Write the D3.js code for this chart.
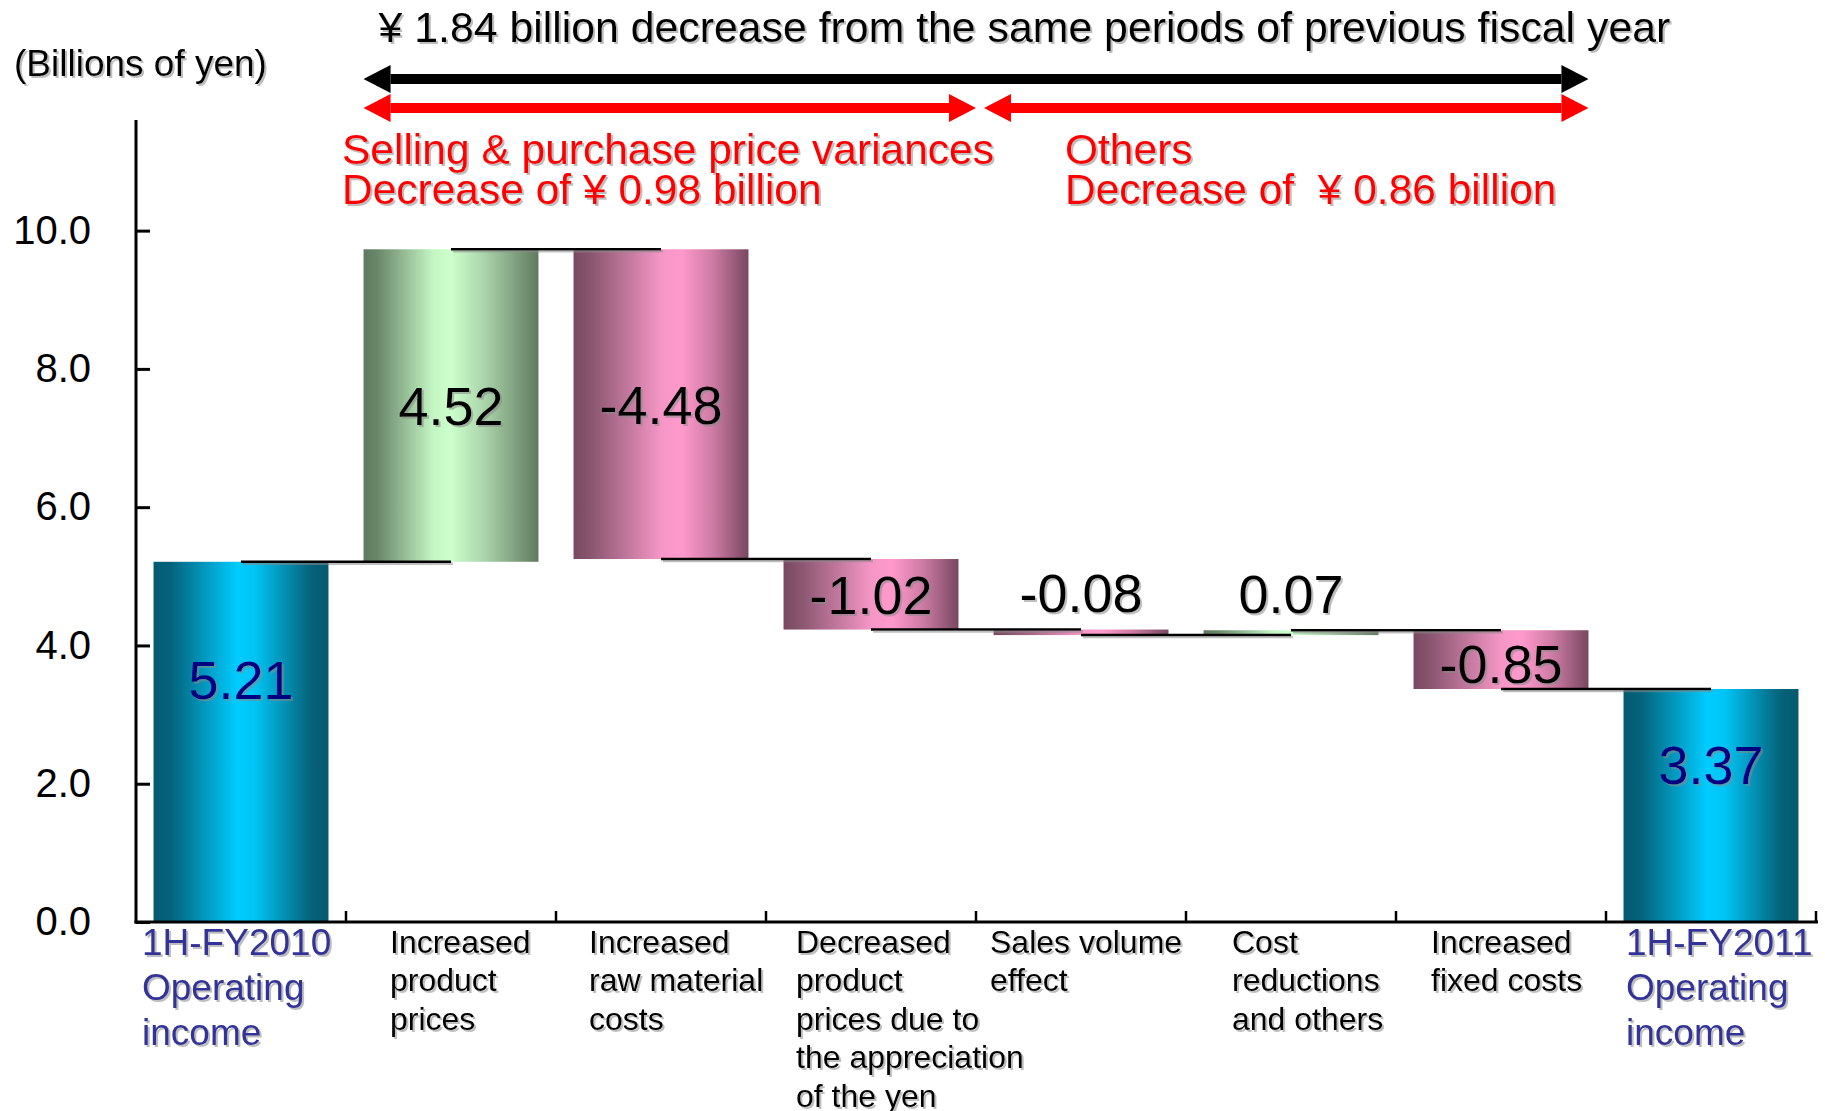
<!DOCTYPE html>
<html>
<head>
<meta charset="utf-8">
<script src="https://cdn.jsdelivr.net/npm/d3@7"></script>
<style>
  html, body { margin: 0; padding: 0; background: #fff; }
  svg { display: block; font-family: "Liberation Sans", Arial, sans-serif; }
  svg text { white-space: pre; }
</style>
</head>
<body>
<svg id="chart" width="1825" height="1111"></svg>
<script>
// Operating income bridge, 1H-FY2010 -> 1H-FY2011 (billions of yen)
const categories = [
  ["1H-FY2010", "Operating", "income"],
  ["Increased", "product", "prices"],
  ["Increased", "raw material", "costs"],
  ["Decreased", "product", "prices due to", "the appreciation", "of the yen"],
  ["Sales volume", "effect"],
  ["Cost", "reductions", "and others"],
  ["Increased", "fixed costs"],
  ["1H-FY2011", "Operating", "income"]
];
const values = [5.21, 4.52, -4.48, -1.02, -0.08, 0.07, -0.85, 3.37];
const kinds = ["total", "up", "down", "down", "down", "up", "down", "total"];
const yTickValues = [0, 2, 4, 6, 8, 10];

const headline = "¥ 1.84 billion decrease from the same periods of previous fiscal year";
const leftNote = ["Selling & purchase price variances", "Decrease of ¥ 0.98 billion"];
const rightNote = ["Others", "Decrease of  ¥ 0.86 billion"];
const unitLabel = "(Billions of yen)";

// layout: left inset of each category caption inside its slot
const labelInset = [6, 44, 33, 30, 14, 46, 35, 20];

const svg = d3.select("#chart");
const defs = svg.append("defs");

// soft grey drop shadow used on texts and connector lines
const shadow = defs.append("filter").attr("id", "shadow")
  .attr("x", "-10%").attr("y", "-10%").attr("width", "130%").attr("height", "140%");
shadow.append("feDropShadow").attr("dx", 2).attr("dy", 2).attr("stdDeviation", 0.6)
  .attr("flood-color", "#888").attr("flood-opacity", 0.55);

function hGradient(id, stops) {
  const g = defs.append("linearGradient").attr("id", id)
    .attr("x1", "0%").attr("x2", "100%").attr("y1", "0%").attr("y2", "0%");
  stops.forEach(([o, c]) => g.append("stop").attr("offset", o).attr("stop-color", c));
}
hGradient("gTotal", [["0%", "#045a70"], ["10%", "#04637c"], ["48%", "#00ccff"], ["58%", "#00c4f4"], ["90%", "#05627a"], ["100%", "#055a6f"]]);
hGradient("gUp", [["0%", "#5f7a5f"], ["8%", "#6a876a"], ["40%", "#c4f6c4"], ["50%", "#ccffcc"], ["70%", "#a9d2a9"], ["100%", "#5f7a5f"]]);
hGradient("gDown", [["0%", "#794860"], ["10%", "#8a5670"], ["50%", "#f596c6"], ["62%", "#ff99cc"], ["80%", "#cc7aa3"], ["100%", "#784760"]]);
const fillFor = { total: "url(#gTotal)", up: "url(#gUp)", down: "url(#gDown)" };

// running totals for the bridge
let running = 0;
const bars = values.map((v, i) => {
  let lo, hi, end;
  if (kinds[i] === "total") { lo = 0; hi = v; end = v; }
  else { const s = running; end = s + v; lo = Math.min(s, end); hi = Math.max(s, end); }
  running = end;
  return { i, v, kind: kinds[i], lo, hi, end };
});

const x = d3.scaleBand().domain(d3.range(categories.length))
  .range([136, 1816]).paddingInner(0.167).paddingOuter(0.0835);
const y = d3.scaleLinear().domain([0, 11.6]).range([922, 120]);
const step = x.step();
const slotLeft = i => x(0) - step * x.paddingInner() / 2 + i * step;

// bars
svg.append("g").selectAll("rect").data(bars).join("rect")
  .attr("x", d => x(d.i))
  .attr("width", x.bandwidth())
  .attr("y", d => y(d.hi))
  .attr("height", d => Math.max(1, y(d.lo) - y(d.hi)))
  .attr("fill", d => fillFor[d.kind]);

// connectors between consecutive bars at the running level
svg.append("g").attr("filter", "url(#shadow)").selectAll("line").data(bars.slice(0, -1)).join("line")
  .attr("x1", d => x(d.i) + x.bandwidth() / 2)
  .attr("x2", d => x(d.i + 1) + x.bandwidth() / 2)
  .attr("y1", d => y(d.end)).attr("y2", d => y(d.end))
  .attr("stroke", "#000").attr("stroke-width", 2.5);

// y axis
const yAxis = d3.axisLeft(y).tickValues(yTickValues).tickFormat(d3.format(".1f"))
  .tickSizeInner(-14).tickSizeOuter(0).tickPadding(45);
const gy = svg.append("g").attr("transform", "translate(136,0)").call(yAxis);
gy.select(".domain").remove();
gy.selectAll(".tick line").attr("stroke", "#000").attr("stroke-width", 3);
gy.selectAll(".tick text").attr("font-size", 40).attr("fill", "#000")
  .attr("font-family", "Liberation Sans, Arial, sans-serif");
svg.append("line").attr("x1", 136).attr("x2", 136).attr("y1", y.range()[1]).attr("y2", y(0) + 1.5)
  .attr("stroke", "#000").attr("stroke-width", 3);

// x axis baseline with slot separators
svg.append("line").attr("x1", 134.5).attr("x2", 1818).attr("y1", y(0)).attr("y2", y(0))
  .attr("stroke", "#000").attr("stroke-width", 3);
svg.append("g").selectAll("line").data(d3.range(1, categories.length + 1)).join("line")
  .attr("x1", i => slotLeft(i)).attr("x2", i => slotLeft(i))
  .attr("y1", y(0)).attr("y2", y(0) - 11)
  .attr("stroke", "#000").attr("stroke-width", 2.5);

// category captions
const cap = svg.append("g").attr("filter", "url(#shadow)");
categories.forEach((lines, i) => {
  const isTotal = kinds[i] === "total";
  const t = cap.append("text")
    .attr("x", slotLeft(i) + labelInset[i])
    .attr("y", isTotal ? 955 : 953)
    .attr("font-size", isTotal ? 37 : 32)
    .attr("fill", isTotal ? "#333399" : "#000");
  lines.forEach((s, k) => t.append("tspan")
    .attr("x", slotLeft(i) + labelInset[i])
    .attr("dy", k === 0 ? 0 : (isTotal ? 45 : 38.4))
    .text(s));
});

// value labels
const fmt = v => (v < 0 ? "-" : "") + d3.format(".2f")(Math.abs(v));
svg.append("g").attr("filter", "url(#shadow)").selectAll("text").data(bars).join("text")
  .attr("x", d => x(d.i) + x.bandwidth() / 2)
  .attr("y", d => {
    if (d.kind === "total") return y(d.v * 2 / 3) - 2;
    if (Math.abs(d.v) < 0.5) return y(d.hi) - 37;
    return y((d.lo + d.hi) / 2) + (d.hi - d.lo < 1 ? 4 : 0);
  })
  .attr("dy", "0.36em")
  .attr("text-anchor", "middle")
  .attr("font-size", 54)
  .attr("fill", d => d.kind === "total" ? "#000080" : "#000")
  .text(d => fmt(d.v));

// span arrows above the chart
function arrow(x0, x1, yc, color, leftHead, rightHead) {
  const hl = 27, hh = 14, th = 5;
  const a = leftHead ? x0 + hl : x0, b = rightHead ? x1 - hl : x1;
  const g = svg.append("g").attr("fill", color);
  g.append("rect").attr("x", a).attr("y", yc - th).attr("width", b - a).attr("height", th * 2);
  if (leftHead) g.append("path").attr("d", `M${x0},${yc} L${x0 + hl},${yc - hh} L${x0 + hl},${yc + hh} Z`);
  if (rightHead) g.append("path").attr("d", `M${x1},${yc} L${x1 - hl},${yc - hh} L${x1 - hl},${yc + hh} Z`);
}
const spanLeft = x(1);
const spanRight = x(6) + x.bandwidth();
arrow(spanLeft, spanRight, 79, "#000", true, true);
arrow(spanLeft, slotLeft(4), 108, "#ff0000", true, true);
arrow(slotLeft(4) + 8, spanRight, 108, "#ff0000", true, true);

const notes = svg.append("g").attr("filter", "url(#shadow)");
notes.append("text").attr("x", spanLeft + 15).attr("y", 42).attr("font-size", 42.8)
  .attr("fill", "#000").text(headline);
notes.append("text").attr("x", 14).attr("y", 76).attr("font-size", 37)
  .attr("fill", "#000").text(unitLabel);
[[leftNote, 342], [rightNote, 1065]].forEach(([lines, lx]) => {
  const t = notes.append("text").attr("x", lx).attr("y", 164).attr("font-size", 42.5)
    .attr("fill", "#ff0000").attr("xml:space", "preserve");
  lines.forEach((s, k) => t.append("tspan").attr("x", lx).attr("dy", k ? 40 : 0).text(s));
});
</script>
</body>
</html>
